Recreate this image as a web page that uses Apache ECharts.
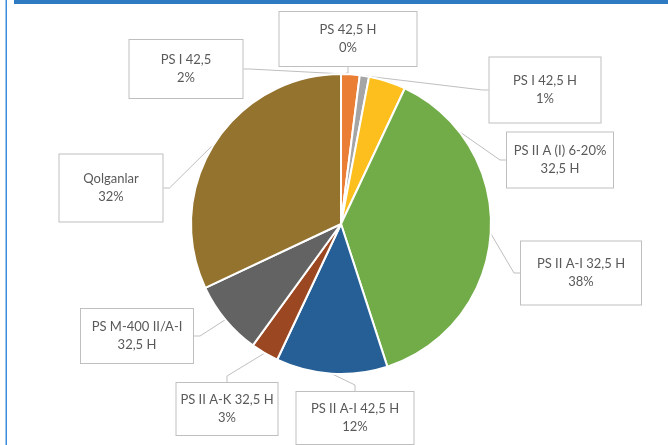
<!DOCTYPE html>
<html>
<head>
<meta charset="utf-8">
<script src="https://cdn.jsdelivr.net/npm/echarts@6/dist/echarts.min.js"></script>
<style>
html, body { margin: 0; padding: 0; background: #fff; }
#chart { width: 668px; height: 445px; }
</style>
</head>
<body>
<div id="chart"></div>
<script>
var categories = ['PS 42,5 H', 'PS I 42,5', 'PS I 42,5 H', 'PS II A (I) 6-20% 32,5 H',
    'PS II A-I 32,5 H', 'PS II A-I 42,5 H', 'PS II A-K 32,5 H', 'PS M-400 II/A-I 32,5 H', 'Qolganlar'];
var values = [0, 2, 1, 4, 38, 12, 3, 8, 32];
var labelNames = ['PS 42,5 H', 'PS I 42,5', 'PS I 42,5 H', 'PS II A (I) 6-20%\n32,5 H',
    'PS II A-I 32,5 H', 'PS II A-I 42,5 H', 'PS II A-K 32,5 H', 'PS M-400 II/A-I\n32,5 H', 'Qolganlar'];
var showPercent = [true, true, true, false, true, true, true, false, true];
var sliceColors = ['#5B9BD5', '#EA7E35', '#A5A5A5', '#FCBF1E', '#71AC48', '#265F96', '#9B4722', '#636363', '#94732F'];

// callout boxes: centre x, centre y, width, height
var boxes = [
    [348, 39, 139, 54],
    [186, 69, 115, 58],
    [545, 90, 113, 65],
    [560, 160, 108, 55],
    [581, 273, 122, 63],
    [355, 418, 119, 52],
    [227, 409, 103, 52],
    [137, 336, 114, 54],
    [111, 188, 105, 67]
];

var pieData = categories.map(function (name, i) {
    var b = boxes[i];
    var pv = (b[3] - 36) / 2;
    return {
        name: name,
        value: values[i],
        itemStyle: { color: sliceColors[i] },
        label: {
            width: b[2] - 2,
            padding: [pv, 0, pv, 0]
        }
    };
});

var myChart = echarts.init(document.getElementById('chart'));
var option = {
    backgroundColor: '#fff',
    animation: false,
    graphic: [
        { type: 'rect', shape: { x: 14, y: 0, width: 654, height: 4 }, style: { fill: '#2E7BC2' } },
        { type: 'rect', shape: { x: 5.5, y: 0, width: 1.5, height: 445 }, style: { fill: '#3A8CDC' } }
    ],
    series: [{
        type: 'pie',
        center: [341, 224],
        radius: 150,
        startAngle: 90,
        clockwise: true,
        avoidLabelOverlap: false,
        data: pieData,
        itemStyle: {
            borderColor: '#fff',
            borderWidth: 2
        },
        emphasis: { disabled: true },
        label: {
            show: true,
            position: 'outside',
            color: '#595959',
            fontFamily: 'Lato',
            fontSize: 13,
            lineHeight: 18,
            align: 'center',
            backgroundColor: '#fff',
            borderColor: '#BFBFBF',
            borderWidth: 1,
            formatter: function (p) {
                var i = p.dataIndex;
                return labelNames[i] + (showPercent[i] ? '\n' + Math.round(p.percent) + '%' : '');
            }
        },
        labelLine: {
            show: true,
            length: 6,
            length2: 6,
            lineStyle: { color: '#BFBFBF', width: 1 }
        },
        labelLayout: function (params) {
            var b = boxes[params.dataIndex];
            return {
                x: b[0],
                y: b[1],
                align: 'center',
                verticalAlign: 'middle',
                hideOverlap: false
            };
        }
    }]
};
myChart.setOption(option);
</script>
</body>
</html>
